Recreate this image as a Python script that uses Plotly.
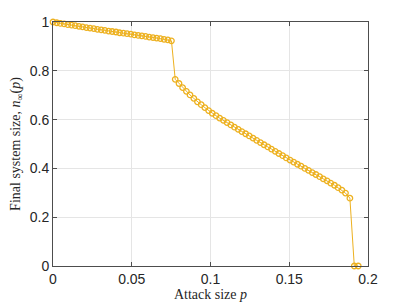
import plotly.graph_objects as go

p_upper = [0.0000, 0.0024, 0.0047, 0.0071, 0.0094, 0.0118, 0.0141, 0.0165, 0.0188, 0.0212,
           0.0235, 0.0259, 0.0282, 0.0306, 0.0329, 0.0353, 0.0376, 0.0400, 0.0423, 0.0447,
           0.0470, 0.0494, 0.0517, 0.0541, 0.0564, 0.0588, 0.0611, 0.0635, 0.0658, 0.0682,
           0.0705, 0.0729, 0.0752]
n_upper = [1.000, 0.997, 0.994, 0.992, 0.989, 0.987, 0.985, 0.982, 0.980, 0.977,
           0.975, 0.973, 0.970, 0.968, 0.966, 0.963, 0.961, 0.959, 0.956, 0.954,
           0.952, 0.950, 0.947, 0.945, 0.943, 0.941, 0.938, 0.936, 0.934, 0.932,
           0.929, 0.927, 0.923]

p_lower = [0.0776, 0.0800, 0.0823, 0.0847, 0.0870, 0.0894, 0.0917, 0.0941, 0.0964, 0.0988,
           0.1011, 0.1035, 0.1058, 0.1082, 0.1105, 0.1129, 0.1152, 0.1176, 0.1199, 0.1223,
           0.1246, 0.1270, 0.1293, 0.1317, 0.1340, 0.1364, 0.1387, 0.1411, 0.1434, 0.1458,
           0.1481, 0.1505, 0.1528, 0.1552, 0.1575, 0.1599, 0.1622, 0.1646, 0.1669, 0.1693,
           0.1716, 0.1740, 0.1763, 0.1787, 0.1810, 0.1834, 0.1857, 0.1885]
n_lower = [0.765, 0.748, 0.731, 0.716, 0.701, 0.687, 0.673, 0.661, 0.649, 0.637,
           0.626, 0.616, 0.606, 0.597, 0.588, 0.578, 0.569, 0.560, 0.551, 0.542,
           0.533, 0.524, 0.515, 0.506, 0.497, 0.488, 0.479, 0.470, 0.461, 0.452,
           0.443, 0.434, 0.426, 0.417, 0.409, 0.400, 0.392, 0.383, 0.375, 0.366,
           0.357, 0.349, 0.340, 0.331, 0.321, 0.311, 0.299, 0.278]

p_zero = [0.1913, 0.1938]
n_zero = [0.0, 0.0]

p_all = p_upper + p_lower + p_zero
n_all = n_upper + n_lower + n_zero

x_ticks = [0, 0.05, 0.1, 0.15, 0.2]
x_labels = ["0", "0.05", "0.1", "0.15", "0.2"]
y_ticks = [0, 0.2, 0.4, 0.6, 0.8, 1]
y_labels = ["0", "0.2", "0.4", "0.6", "0.8", "1"]

color = "#EDB120"

fig = go.Figure()
fig.add_trace(go.Scatter(
    x=p_all, y=n_all, mode="lines+markers",
    line=dict(color=color, width=1),
    marker=dict(symbol="circle-open", size=5.5, color=color, line=dict(width=1.3, color=color)),
    cliponaxis=False, showlegend=False,
))

axis_common = dict(
    showline=True, linecolor="#4d4d4d", linewidth=1, mirror="ticks",
    ticks="inside", ticklen=4, tickcolor="#4d4d4d",
    showgrid=True, gridcolor="#e5e5e5", gridwidth=1, zeroline=False,
    automargin=False,
    tickfont=dict(family="Liberation Sans, Arial", size=14, color="#262626"),
)

# page body has an 8px default margin, so the figure is offset by (8, 8)
fig.update_layout(
    width=399, height=297,
    margin=dict(l=45, r=39, t=14, b=39),
    paper_bgcolor="white", plot_bgcolor="white",
    xaxis=dict(range=[0, 0.2], tickvals=x_ticks, ticktext=x_labels,
               title=dict(text="Attack size <i>p</i>", standoff=2,
                          font=dict(family="Liberation Serif, Times New Roman", size=14, color="#262626")),
               **axis_common),
    yaxis=dict(range=[0, 1], tickvals=y_ticks, ticktext=y_labels,
               title=dict(text="Final system size, <i>n</i><sub>∞</sub>(<i>p</i>)", standoff=6,
                          font=dict(family="Liberation Serif, Times New Roman", size=14, color="#262626")),
               **axis_common),
)

fig.write_html("out.html")
